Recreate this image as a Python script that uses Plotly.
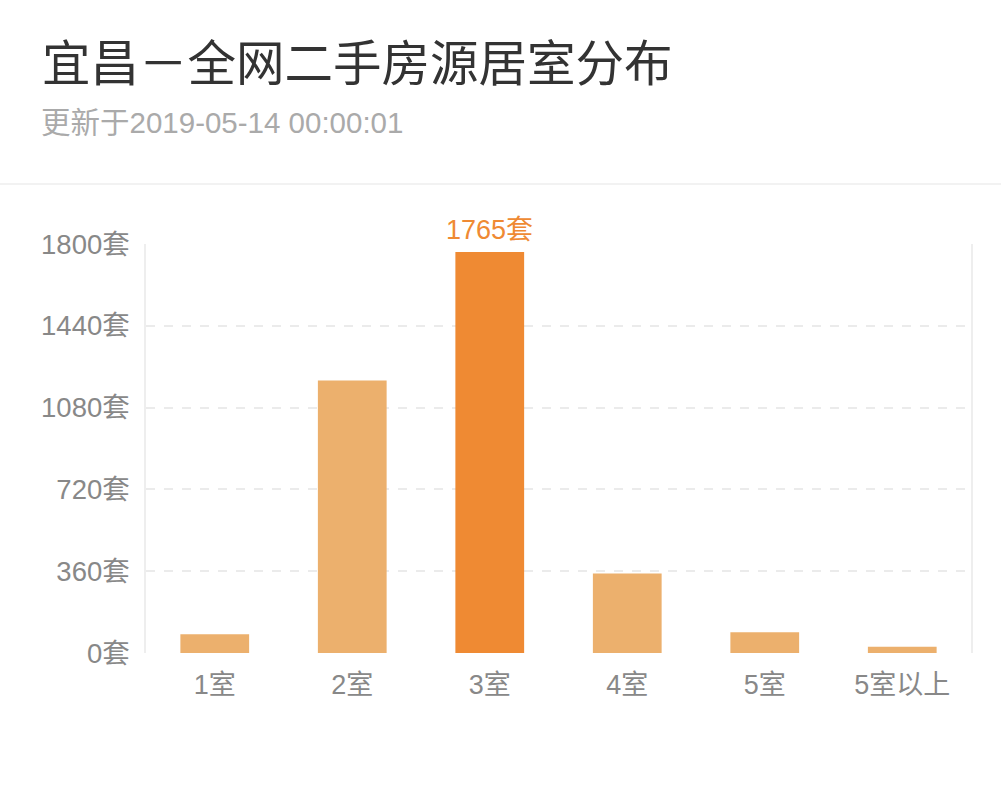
import plotly.graph_objects as go

rooms = ['1室', '2室', '3室', '4室', '5室', '5室以上']
counts = [82, 1199, 1765, 350, 91, 28]
y_ticks = [0, 360, 720, 1080, 1440, 1800]
highlight = '3室'

light_orange = '#ECB06D'
dark_orange = '#EF8A33'
font_family = '"Liberation Sans", "Noto Sans CJK SC", sans-serif'

bar_colors = [dark_orange if r == highlight else light_orange for r in rooms]

W, H = 1001, 805
m_l, m_r, m_t, m_b = 146, 30, 244, 152
plot_h = H - m_t - m_b
plot_w = W - m_l - m_r

fig = go.Figure(go.Bar(
    x=rooms, y=counts,
    marker=dict(color=bar_colors, line=dict(width=0)),
    width=0.5,
))

# value label above the highlighted bar
hi = rooms.index(highlight)
fig.add_annotation(x=rooms[hi], y=counts[hi], text=f'{counts[hi]}套',
                   showarrow=False, yanchor='bottom', yshift=5,
                   font=dict(color=dark_orange, size=27, family=font_family))

fig.update_layout(
    width=W, height=H,
    margin=dict(l=m_l, r=m_r, t=m_t, b=m_b),
    paper_bgcolor='white', plot_bgcolor='white',
    showlegend=False,
    font=dict(family=font_family),
    title=dict(text='宜昌－全网二手房源居室分布', xref='container', yref='container',
               x=42 / W, xanchor='left', y=1 - 64 / H, yanchor='middle',
               font=dict(size=48.5, color='#333333', family=font_family)),
)

fig.update_xaxes(showgrid=False, showline=False, zeroline=False, ticks='',
                 tickfont=dict(size=27, color='#888888'), ticklabelstandoff=13)
fig.update_yaxes(range=[0, 1800], tickvals=y_ticks, ticktext=[f'{v}套' for v in y_ticks],
                 showgrid=True, gridcolor='#EBEBEB', griddash='dash', gridwidth=1.5,
                 zeroline=False, showline=True, linecolor='#EEEEEE', linewidth=1.5, mirror=True,
                 ticks='', tickfont=dict(size=27.5, color='#888888'), ticklabelstandoff=9)

# subtitle
fig.add_annotation(text='更新于2019-05-14 00:00:01', xref='paper', yref='paper',
                   x=(39 - m_l) / plot_w, xanchor='left',
                   y=(H - m_b - 123) / plot_h, yanchor='middle', showarrow=False,
                   font=dict(size=29.5, color='#AAAAAA', family=font_family))

# separator under the header
sep_y = (H - m_b - 184) / plot_h
fig.add_shape(type='line', xref='paper', yref='paper',
              x0=-m_l / plot_w, x1=(W - m_l) / plot_w, y0=sep_y, y1=sep_y,
              line=dict(color='#EEEEEE', width=1.5))

# drop the default page margin so the figure sits at the window corner
fig.write_html('out.html', config={'displayModeBar': False},
               post_script="document.body.style.margin='0';")
